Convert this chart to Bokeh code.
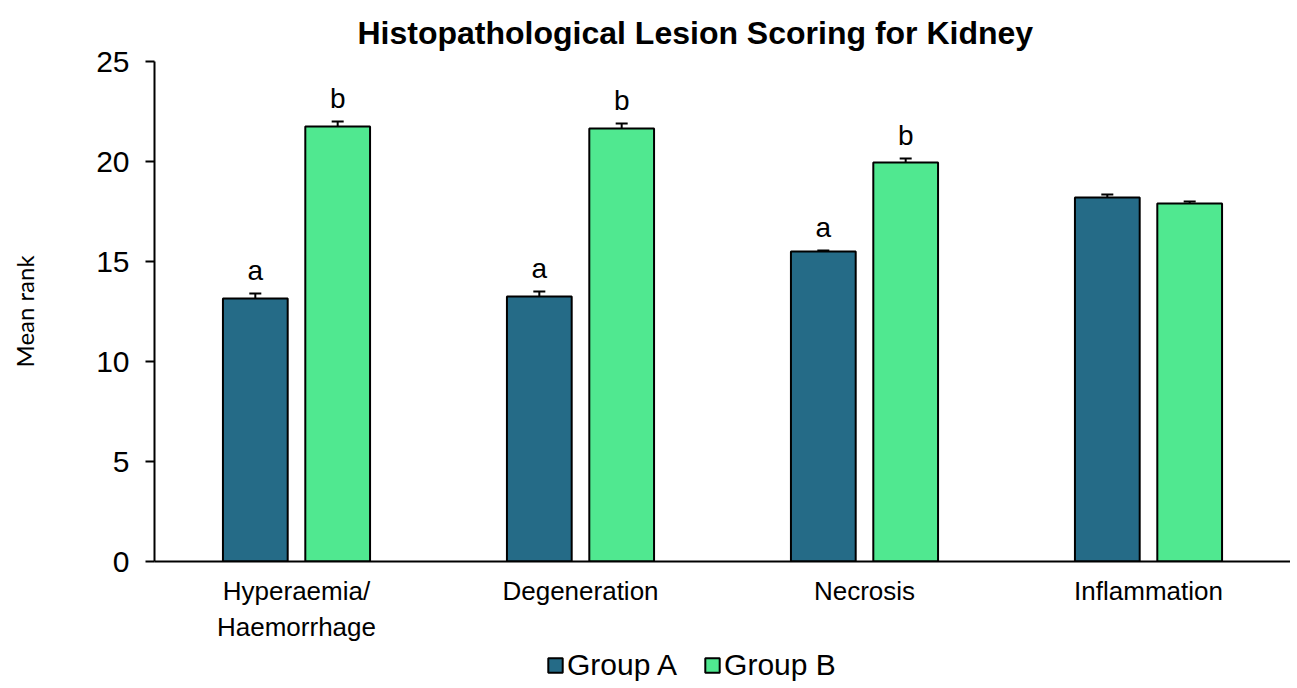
from bokeh.plotting import figure
from bokeh.layouts import column
from bokeh.models import ColumnDataSource, FactorRange, Whisker, TeeHead, Legend, LegendItem, FixedTicker
from bokeh.transform import dodge
from bokeh.core.properties import value
from bokeh.embed import file_html
from bokeh.resources import INLINE

categories = ["Hyperaemia/\nHaemorrhage", "Degeneration", "Necrosis", "Inflammation"]
group_a = [13.15, 13.25, 15.5, 18.2]
group_b = [21.75, 21.65, 19.95, 17.9]
err_a = [0.25, 0.25, 0.05, 0.15]
err_b = [0.25, 0.25, 0.2, 0.1]
letters_a = ["a", "a", "a", ""]
letters_b = ["b", "b", "b", ""]
series_names = ["Group A", "Group B"]
y_ticks = [0, 5, 10, 15, 20, 25]

color_a = "#256B87"
color_b = "#50E890"

src = ColumnDataSource(dict(
    cat=categories,
    a=group_a, b=group_b,
    a_up=[v + e for v, e in zip(group_a, err_a)],
    b_up=[v + e for v, e in zip(group_b, err_b)],
    la=letters_a, lb=letters_b,
))

x_range = FactorRange(*categories, range_padding=0)
p = figure(x_range=x_range, y_range=(0, 25),
           frame_width=1136, frame_height=500, output_backend="svg", toolbar_location=None,
           min_border_left=154, min_border_right=0, min_border_top=61, min_border_bottom=0)

p.title.text = "Histopathological Lesion Scoring for Kidney"
p.title.text_font = "Liberation Sans"
p.title.text_font_size = "32px"
p.title.text_font_style = "bold"
p.title.align = "left"
p.title.offset = 203
p.title.standoff = 22
p.title.text_color = "#000000"

off = 0.145
w = 0.228
ra = p.vbar(x=dodge("cat", -off, range=x_range), top="a", width=w, source=src,
            fill_color=color_a, line_color="black", line_width=2)
rb = p.vbar(x=dodge("cat", off, range=x_range), top="b", width=w, source=src,
            fill_color=color_b, line_color="black", line_width=2)

for key, up, o in (("a", "a_up", -off), ("b", "b_up", off)):
    wk = Whisker(base=dodge("cat", o, range=x_range), lower=key, upper=up, source=src,
                 dimension="height", line_color="black", line_width=2,
                 upper_head=TeeHead(size=12, line_color="black", line_width=2), lower_head=None)
    p.add_layout(wk)

p.text(x=dodge("cat", -off, range=x_range), y="a_up", text="la", source=src,
       text_align="center", text_baseline="bottom", y_offset=-8,
       text_font=value("Liberation Sans"), text_font_size="28px", text_color="black")
p.text(x=dodge("cat", off, range=x_range), y="b_up", text="lb", source=src,
       text_align="center", text_baseline="bottom", y_offset=-8,
       text_font=value("Liberation Sans"), text_font_size="28px", text_color="black")

p.xgrid.visible = False
p.ygrid.visible = False
p.outline_line_color = None

p.yaxis.ticker = FixedTicker(ticks=y_ticks)
p.yaxis.minor_tick_line_color = None
p.yaxis.major_tick_in = 0
p.yaxis.major_tick_out = 9
p.yaxis.major_tick_line_width = 2
p.yaxis.axis_line_width = 2
p.yaxis.axis_line_color = "black"
p.yaxis.major_tick_line_color = "black"
p.yaxis.major_label_text_font = "Liberation Sans"
p.yaxis.major_label_text_font_size = "30px"
p.yaxis.major_label_text_color = "black"
p.yaxis.major_label_standoff = 16
p.yaxis.axis_label = "Mean rank"
p.yaxis.axis_label_text_font = "Lato"
p.yaxis.axis_label_text_font_size = "24px"
p.yaxis.axis_label_text_font_style = "normal"
p.yaxis.axis_label_text_color = "black"
p.yaxis.axis_label_standoff = 54

p.xaxis.axis_line_width = 2
p.xaxis.axis_line_color = "black"
p.xaxis.major_tick_line_color = None
p.xaxis.minor_tick_line_color = None
p.xaxis.major_tick_out = 0
p.xaxis.major_tick_in = 0
p.xaxis.major_label_text_font = "Liberation Sans"
p.xaxis.major_label_text_font_size = "26px"
p.xaxis.major_label_text_color = "black"
p.xaxis.major_label_standoff = 14

# legend strip: same bars, hidden renderers, only used as legend entries
p2 = figure(width=1290, height=40, x_range=x_range, y_range=(0, 25), output_backend="svg",
            toolbar_location=None, min_border=0, x_axis_location=None, y_axis_location=None)
p2.grid.visible = False
p2.outline_line_color = None
la_r = p2.vbar(x=dodge("cat", -off, range=x_range), top="a", width=w, source=src,
               fill_color=color_a, line_color="black", line_width=2, visible=False)
lb_r = p2.vbar(x=dodge("cat", off, range=x_range), top="b", width=w, source=src,
               fill_color=color_b, line_color="black", line_width=2, visible=False)
legend = Legend(items=[LegendItem(label=series_names[0], renderers=[la_r]),
                       LegendItem(label=series_names[1], renderers=[lb_r])],
                orientation="horizontal", location=(392, 2), click_policy="none",
                label_text_font="Liberation Sans", label_text_font_size="30px",
                label_text_color="black", glyph_width=18, glyph_height=18,
                spacing=26, label_standoff=3, border_line_color=None,
                background_fill_alpha=0, padding=0, margin=0,
                inactive_fill_alpha=0)
p2.add_layout(legend, "center")

layout = column(p, p2, spacing=0)
open("out.html", "w").write(file_html(layout, INLINE))
